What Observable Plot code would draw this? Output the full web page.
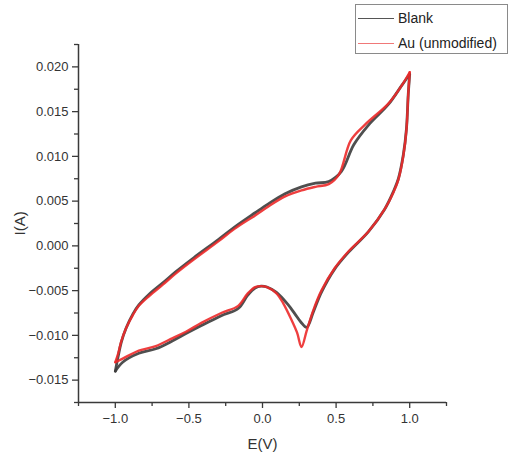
<!DOCTYPE html>
<html>
<head>
<meta charset="utf-8">
<script src="https://cdn.jsdelivr.net/npm/d3@7"></script>
<script src="https://cdn.jsdelivr.net/npm/@observablehq/plot@0.6"></script>
<style>
  body { margin: 0; background: #fff; font-family: "Liberation Sans", Arial, sans-serif; }
  #wrap { position: relative; width: 508px; height: 461px; }
  #legend { position: absolute; left: 355px; top: 4px; width: 151px; height: 48px;
    border: 1px solid #8a8a8a; background: #fff; font-size: 14px; color: #222; }
  .row { position: absolute; left: 2px; height: 16px; display: flex; align-items: center; }
  .sw { width: 36px; height: 0; border-top: 1.5px solid; margin-right: 4px; }
</style>
</head>
<body>
<div id="wrap"></div>
<script>
// Blank: forward (anodic) scan, then return (cathodic) scan
const blankFwdE = [-1.0,-0.98,-0.96,-0.927,-0.88,-0.84,-0.77,-0.675,-0.59,-0.465,-0.30,-0.19,-0.05,0.04,0.15,0.265,0.36,0.45,0.535,0.62,0.72,0.855,0.945,1.0];
const blankFwdI = [-0.0140,-0.0123,-0.0108,-0.0092,-0.0076,-0.0066,-0.0054,-0.0041,-0.0029,-0.0013,0.0007,0.0021,0.0037,0.0047,0.0058,0.0066,0.0070,0.0072,0.0083,0.0113,0.0135,0.0158,0.0179,0.0192];
const blankRevE = [1.0,0.99,0.978,0.957,0.923,0.89,0.83,0.72,0.585,0.49,0.40,0.345,0.30,0.26,0.22,0.175,0.095,0.03,-0.01,-0.05,-0.10,-0.165,-0.28,-0.415,-0.52,-0.61,-0.725,-0.84,-0.95,-1.0];
const blankRevI = [0.0192,0.0169,0.0131,0.0102,0.0075,0.0061,0.0041,0.0016,-0.0007,-0.0026,-0.0052,-0.0074,-0.0091,-0.0085,-0.0076,-0.0066,-0.0052,-0.0046,-0.0045,-0.0047,-0.0055,-0.0070,-0.0078,-0.0089,-0.0098,-0.0106,-0.0115,-0.0120,-0.0130,-0.0140];
// Au (unmodified)
const auFwdE = [-1.0,-0.98,-0.96,-0.927,-0.88,-0.84,-0.77,-0.675,-0.59,-0.465,-0.30,-0.19,-0.05,0.04,0.15,0.265,0.36,0.45,0.52,0.60,0.70,0.855,0.945,1.0];
const auFwdI = [-0.0130,-0.0120,-0.0107,-0.0092,-0.0077,-0.0067,-0.0056,-0.0043,-0.0031,-0.0015,0.0005,0.0019,0.0034,0.0044,0.0055,0.0062,0.0066,0.0069,0.0080,0.0118,0.0136,0.0159,0.0179,0.0194];
const auRevE = [1.0,0.99,0.978,0.957,0.923,0.89,0.83,0.72,0.585,0.49,0.40,0.345,0.30,0.265,0.235,0.195,0.14,0.095,0.03,-0.01,-0.05,-0.10,-0.165,-0.28,-0.415,-0.52,-0.61,-0.725,-0.84,-0.95,-1.0];
const auRevI = [0.0194,0.0169,0.0130,0.0101,0.0074,0.0060,0.0041,0.0016,-0.0006,-0.0025,-0.0050,-0.0072,-0.0095,-0.0113,-0.0097,-0.0082,-0.0064,-0.0053,-0.0046,-0.0045,-0.0046,-0.0053,-0.0067,-0.0075,-0.0086,-0.0096,-0.0103,-0.0112,-0.0117,-0.0126,-0.0130];

const xDomain = [-1.25, 1.25];
const yDomain = [-0.0175, 0.0225];
const xMajor = [-1.0, -0.5, 0.0, 0.5, 1.0];
const xMinor = [-1.25, -0.75, -0.25, 0.25, 0.75, 1.25];
const yMajor = [-0.015, -0.010, -0.005, 0.000, 0.005, 0.010, 0.015, 0.020];
const yMinor = [-0.0175, -0.0125, -0.0075, -0.0025, 0.0025, 0.0075, 0.0125, 0.0175, 0.0225];

const seg = (E, I, z) => E.map((e, i) => ({E: e, I: I[i], z}));
const blank = [...seg(blankFwdE, blankFwdI, "fwd"), ...seg(blankRevE, blankRevI, "rev")];
const au = [...seg(auFwdE, auFwdI, "fwd"), ...seg(auRevE, auRevI, "rev")];

const axisColor = "#3a3a3a";
const chart = Plot.plot({
  width: 508,
  height: 461,
  marginLeft: 78,
  marginRight: 62,
  marginTop: 44,
  marginBottom: 59,
  style: {fontFamily: "Liberation Sans, Arial, sans-serif", fontSize: "13px", color: "#333", background: "#fff"},
  x: {domain: xDomain},
  y: {domain: yDomain},
  marks: [
    Plot.axisX({ticks: xMajor, tickFormat: d3.format(".1f"), tickSize: 6, tickPadding: 5, stroke: axisColor, strokeWidth: 1.3, label: null}),
    Plot.axisX({ticks: xMinor, tickFormat: () => "", tickSize: 4, stroke: axisColor, strokeWidth: 1.3, label: null}),
    Plot.axisY({ticks: yMajor, tickFormat: d3.format(".3f"), tickSize: 6, tickPadding: 4, stroke: axisColor, strokeWidth: 1.3, label: null}),
    Plot.axisY({ticks: yMinor, tickFormat: () => "", tickSize: 4, stroke: axisColor, strokeWidth: 1.3, label: null}),
    Plot.ruleX([xDomain[0]], {stroke: axisColor, strokeWidth: 1.5}),
    Plot.ruleY([yDomain[0]], {stroke: axisColor, strokeWidth: 1.5}),
    Plot.line(blank, {x: "E", y: "I", z: "z", stroke: "#3c3c3c", strokeWidth: 2.8, strokeOpacity: 0.9, curve: "catmull-rom"}),
    Plot.line(au, {x: "E", y: "I", z: "z", stroke: "#ec2a2a", strokeWidth: 2.4, strokeOpacity: 0.9, curve: "catmull-rom"}),
    Plot.text(["E(V)"], {frameAnchor: "bottom", dy: 46, fontSize: 15, fill: "#333"}),
    Plot.text(["I(A)"], {frameAnchor: "left", dx: -58, dy: 12, rotate: -90, fontSize: 15, fill: "#333"})
  ]
});
const wrap = document.getElementById("wrap");
wrap.appendChild(chart);

const legendItems = ["Blank", "Au (unmodified)"];
const legendColors = ["#555", "#f07878"];
const lg = document.createElement("div");
lg.id = "legend";
legendItems.forEach((t, i) => {
  const r = document.createElement("div");
  r.className = "row";
  r.style.top = (5 + i * 25) + "px";
  r.innerHTML = `<span class="sw" style="border-color:${legendColors[i]}"></span><span>${t}</span>`;
  lg.appendChild(r);
});
wrap.appendChild(lg);
</script>
</body>
</html>
